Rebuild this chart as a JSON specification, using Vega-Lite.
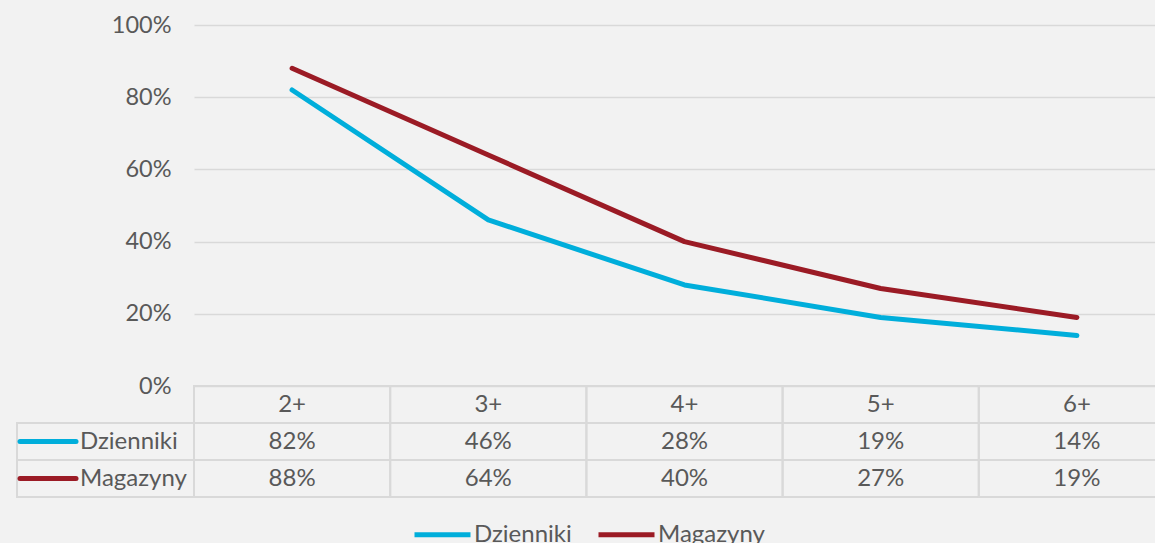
{
  "$schema": "https://vega.github.io/schema/vega-lite/v6.json",
  "width": 961,
  "height": 543,
  "autosize": {"type": "none"},
  "padding": {"left": 194, "top": 0, "right": 0, "bottom": 0},
  "background": "#f2f2f2",
  "config": {"font": "Lato", "view": {"stroke": null}},
  "datasets": {
    "d": [
      {"cat": "2+", "series": "Dzienniki", "value": 0.82},
      {"cat": "3+", "series": "Dzienniki", "value": 0.46},
      {"cat": "4+", "series": "Dzienniki", "value": 0.28},
      {"cat": "5+", "series": "Dzienniki", "value": 0.19},
      {"cat": "6+", "series": "Dzienniki", "value": 0.14},
      {"cat": "2+", "series": "Magazyny", "value": 0.88},
      {"cat": "3+", "series": "Magazyny", "value": 0.64},
      {"cat": "4+", "series": "Magazyny", "value": 0.40},
      {"cat": "5+", "series": "Magazyny", "value": 0.27},
      {"cat": "6+", "series": "Magazyny", "value": 0.19}
    ]
  },
  "data": {"name": "d"},
  "resolve": {"scale": {"x": "independent", "y": "independent"}},
  "layer": [
    {
      "mark": {"type": "line", "strokeWidth": 5, "strokeCap": "round", "strokeJoin": "round"},
      "encoding": {
        "x": {"field": "cat", "type": "nominal", "scale": {"type": "point", "domain": ["2+", "3+", "4+", "5+", "6+"], "range": [0, 981], "padding": 0.5}, "axis": null},
        "y": {"field": "value", "type": "quantitative", "scale": {"domain": [0, 1], "range": [386, 25]},
          "axis": {"values": [0, 0.2, 0.4, 0.6, 0.8, 1], "format": ".0%", "domain": false, "ticks": false, "grid": true, "gridColor": "#d9d9d9", "gridWidth": 1.5, "labelFont": "Lato", "labelFontSize": 23.5, "labelColor": "#595959", "labelPadding": 23, "title": null}},
        "color": {"field": "series", "type": "nominal", "scale": {"domain": ["Dzienniki", "Magazyny"], "range": ["#00AEDB", "#9B1B25"]},
          "legend": {"orient": "none", "legendX": 218, "legendY": 504, "direction": "horizontal", "title": null, "symbolType": "stroke", "symbolSize": 3136, "symbolStrokeWidth": 5, "labelFont": "Lato", "labelFontSize": 24, "labelColor": "#595959", "labelOffset": 1, "columnPadding": 16}}
      }
    },
    {
      "encoding": {
        "x": {"field": "cat", "type": "nominal", "scale": {"type": "band", "domain": ["2+", "3+", "4+", "5+", "6+"], "range": [0, 981], "paddingInner": 0, "paddingOuter": 0}, "axis": null}
      },
      "layer": [
        {
          "mark": {"type": "rect", "fill": "transparent", "stroke": "#d9d9d9", "strokeWidth": 2},
          "encoding": {"y": {"field": "series", "type": "nominal", "scale": {"type": "band", "domain": ["header", "Dzienniki", "Magazyny"], "range": [386, 497], "paddingInner": 0, "paddingOuter": 0}, "axis": null}}
        },
        {
          "mark": {"type": "text", "fontSize": 24, "color": "#595959", "font": "Lato"},
          "encoding": {
            "y": {"field": "series", "type": "nominal", "scale": {"type": "band", "domain": ["header", "Dzienniki", "Magazyny"], "range": [386, 497], "paddingInner": 0, "paddingOuter": 0}, "axis": null},
            "text": {"field": "value", "type": "quantitative", "format": ".0%"}
          }
        },
        {
          "transform": [{"filter": "datum.series === 'Dzienniki'"}],
          "mark": {"type": "rect", "fill": "transparent", "stroke": "#d9d9d9", "strokeWidth": 2},
          "encoding": {"y": {"datum": "header", "type": "nominal", "scale": {"type": "band", "domain": ["header", "Dzienniki", "Magazyny"], "range": [386, 497], "paddingInner": 0, "paddingOuter": 0}, "axis": null}}
        },
        {
          "transform": [{"filter": "datum.series === 'Dzienniki'"}],
          "mark": {"type": "text", "fontSize": 24, "color": "#595959", "font": "Lato"},
          "encoding": {
            "y": {"datum": "header", "type": "nominal", "scale": {"type": "band", "domain": ["header", "Dzienniki", "Magazyny"], "range": [386, 497], "paddingInner": 0, "paddingOuter": 0}, "axis": null},
            "text": {"field": "cat", "type": "nominal"}
          }
        }
      ]
    },
    {
      "transform": [{"filter": "datum.cat === '2+'"}],
      "encoding": {
        "x": {"datum": "label", "type": "nominal", "scale": {"type": "band", "domain": ["label"], "range": [-177, 0], "paddingInner": 0, "paddingOuter": 0}, "axis": null},
        "y": {"field": "series", "type": "nominal", "scale": {"type": "band", "domain": ["header", "Dzienniki", "Magazyny"], "range": [386, 497], "paddingInner": 0, "paddingOuter": 0}, "axis": null}
      },
      "layer": [
        {"mark": {"type": "rect", "fill": "transparent", "stroke": "#d9d9d9", "strokeWidth": 2}},
        {
          "mark": {"type": "point", "shape": "stroke", "size": 3136, "strokeWidth": 5, "strokeCap": "round", "filled": false, "opacity": 1, "xOffset": -57.5},
          "encoding": {"color": {"field": "series", "type": "nominal"}}
        },
        {
          "mark": {"type": "text", "align": "left", "xOffset": -25.5, "fontSize": 24, "color": "#595959", "font": "Lato"},
          "encoding": {"text": {"field": "series", "type": "nominal"}}
        }
      ]
    }
  ]
}
